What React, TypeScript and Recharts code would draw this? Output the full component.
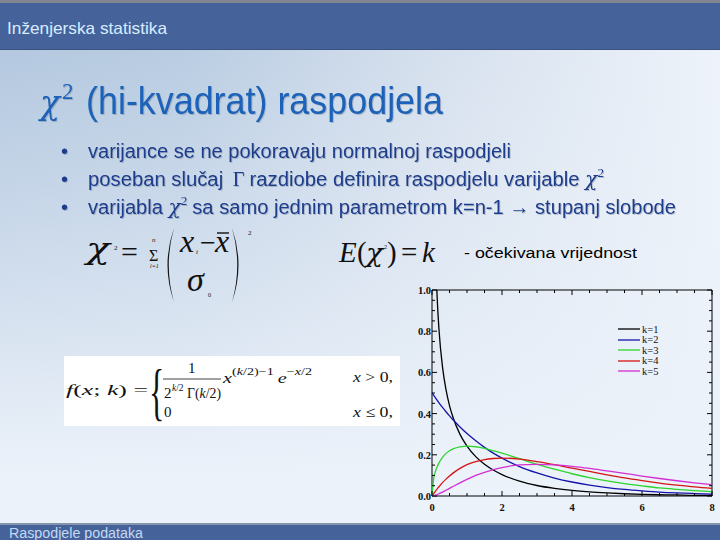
import React from "react";
import { LineChart, Line, XAxis, YAxis, ReferenceArea, Legend } from "recharts";

// x positions the curves were read at
const xValues = [0, 0.05, 0.1, 0.15, 0.2, 0.3, 0.4, 0.5, 0.6, 0.8, 1, 1.25, 1.5, 1.75, 2, 2.5, 3, 3.5, 4, 4.5, 5, 5.5, 6, 6.5, 7, 7.5, 8];

// density, one list per k
const k1 = [null, 1.74, 1.2, 0.956, 0.807, 0.627, 0.516, 0.439, 0.382, 0.299, 0.242, 0.191, 0.154, 0.126, 0.104, 0.072, 0.051, 0.037, 0.027, 0.02, 0.015, 0.011, 0.008, 0.006, 0.005, 0.003, 0.003];
const k2 = [0.5, 0.488, 0.476, 0.464, 0.452, 0.43, 0.409, 0.389, 0.37, 0.335, 0.303, 0.268, 0.236, 0.208, 0.184, 0.143, 0.112, 0.087, 0.068, 0.053, 0.041, 0.032, 0.025, 0.019, 0.015, 0.012, 0.009];
const k3 = [0, 0.087, 0.12, 0.143, 0.161, 0.188, 0.207, 0.22, 0.229, 0.239, 0.242, 0.239, 0.231, 0.22, 0.208, 0.181, 0.154, 0.13, 0.108, 0.089, 0.073, 0.06, 0.049, 0.039, 0.032, 0.026, 0.021];
const k4 = [0, 0.012, 0.024, 0.035, 0.045, 0.065, 0.082, 0.097, 0.111, 0.134, 0.152, 0.167, 0.177, 0.182, 0.184, 0.179, 0.167, 0.152, 0.135, 0.119, 0.103, 0.088, 0.075, 0.063, 0.053, 0.044, 0.037];
const k5 = [0, 0.001, 0.004, 0.007, 0.011, 0.019, 0.028, 0.037, 0.046, 0.064, 0.081, 0.1, 0.115, 0.128, 0.138, 0.151, 0.154, 0.151, 0.144, 0.134, 0.122, 0.11, 0.097, 0.085, 0.074, 0.064, 0.055];

const xTicks = [0, 0.5, 1, 1.5, 2, 2.5, 3, 3.5, 4, 4.5, 5, 5.5, 6, 6.5, 7, 7.5, 8];
const yTicks = [0, 0.05, 0.1, 0.15, 0.2, 0.25, 0.3, 0.35, 0.4, 0.45, 0.5, 0.55, 0.6, 0.65, 0.7, 0.75, 0.8, 0.85, 0.9, 0.95, 1];

const series = [
  { key: "k1", name: "k=1", color: "#000000" },
  { key: "k2", name: "k=2", color: "#1414a8" },
  { key: "k3", name: "k=3", color: "#2ed42e" },
  { key: "k4", name: "k=4", color: "#d41414" },
  { key: "k5", name: "k=5", color: "#d42ed4" },
];

const data = xValues.map((x, i) => ({ x, k1: k1[i], k2: k2[i], k3: k3[i], k4: k4[i], k5: k5[i] }));

const CHART_W = 320;
const CHART_H = 240;
const MARGIN = { top: 10, right: 8, left: 0, bottom: 0 };
const Y_W = 32;
const X_H = 24;
const PLOT_W = CHART_W - MARGIN.left - MARGIN.right - Y_W;
const PLOT_H = CHART_H - MARGIN.top - MARGIN.bottom - X_H;

const tickFont = { fontFamily: "'Liberation Serif', 'Times New Roman', serif", fontSize: 10.5, fontWeight: 600, fill: "#111" };

function XTick(props: any) {
  const { x, y, payload } = props;
  const v = payload.value;
  const major = v % 2 === 0;
  const len = major ? 5 : 3;
  return (
    <g>
      <line x1={x} y1={y} x2={x} y2={y - len} stroke="#000" />
      <line x1={x} y1={y - PLOT_H} x2={x} y2={y - PLOT_H + len} stroke="#000" />
      {major && (
        <text x={x} y={y + 15} textAnchor="middle" {...tickFont}>
          {v}
        </text>
      )}
    </g>
  );
}

function YTick(props: any) {
  const { x, y, payload } = props;
  const v = payload.value;
  const major = Math.round(v * 100) % 20 === 0;
  const len = major ? 5 : 3;
  return (
    <g>
      <line x1={x} y1={y} x2={x + len} y2={y} stroke="#000" />
      <line x1={x + PLOT_W} y1={y} x2={x + PLOT_W - len} y2={y} stroke="#000" />
      {major && (
        <text x={x - 1} y={y + 4} textAnchor="end" {...tickFont}>
          {v.toFixed(1)}
        </text>
      )}
    </g>
  );
}

function LegendBox(props: any) {
  const items = props.payload || [];
  return (
    <div style={{ fontFamily: "'Liberation Serif', serif", fontSize: 10.5, color: "#111" }}>
      {items.map((it: any) => (
        <div key={it.value} style={{ display: "flex", alignItems: "center", height: 10.5 }}>
          <svg width={24} height={10}>
            <line x1={0} y1={5} x2={22} y2={5} stroke={it.color} strokeWidth={1.3} />
          </svg>
          <span>{it.value}</span>
        </div>
      ))}
    </div>
  );
}

function Chi2Chart() {
  return (
    <LineChart width={CHART_W} height={CHART_H} data={data} margin={MARGIN}>
      <XAxis
        dataKey="x"
        type="number"
        domain={[0, 8]}
        ticks={xTicks}
        interval={0}
        height={X_H}
        axisLine={false}
        tickLine={false}
        tickSize={0}
        tickMargin={0}
        tick={<XTick />}
      />
      <YAxis
        type="number"
        domain={[0, 1]}
        allowDataOverflow
        ticks={yTicks}
        interval={0}
        width={Y_W}
        axisLine={false}
        tickLine={false}
        tickSize={0}
        tickMargin={0}
        tick={<YTick />}
      />
      <ReferenceArea x1={0} x2={8} y1={0} y2={1} fill="none" stroke="#000" strokeWidth={1} />
      {series.map((s) => (
        <Line
          key={s.key}
          dataKey={s.key}
          name={s.name}
          type="monotone"
          stroke={s.color}
          strokeWidth={1.3}
          dot={false}
          isAnimationActive={false}
        />
      ))}
      <Legend
        layout="vertical"
        align="center"
        verticalAlign="middle"
        content={<LegendBox />}
        wrapperStyle={{ left: 218, top: 44, width: 60 }}
      />
    </LineChart>
  );
}

const serif = "'Liberation Serif', 'Times New Roman', serif";
const greek = "'DejaVu Serif', 'Liberation Serif', serif";
const sans = "'Liberation Sans', Arial, sans-serif";

function Paren({ x, top, bottom, left }: { x: number; top: number; bottom: number; left: boolean }) {
  const mid = (top + bottom) / 2;
  const bulge = left ? x - 13 : x + 13;
  const inner = left ? x - 10.5 : x + 10.5;
  return <path d={`M${x},${top} Q${bulge},${mid} ${x},${bottom} Q${inner},${mid} ${x},${top} Z`} fill="#111" />;
}

function SlideText() {
  const bullet = "#1e3c8c";
  return (
    <svg width={720} height={540} style={{ position: "absolute", left: 0, top: 0 }}>
      <defs>
        <filter id="sh" x="-5%" y="-20%" width="110%" height="140%">
          <feDropShadow dx="1" dy="1" stdDeviation="0.6" floodColor="#5a6a80" floodOpacity="0.35" />
        </filter>
      </defs>
      <text x={7} y={34} fontFamily={sans} fontSize={16.5} fill="#d8ecff" textLength={160} lengthAdjust="spacingAndGlyphs">
        Inženjerska statistika
      </text>
      <text x={9} y={538} fontFamily={sans} fontSize={14} fill="#c4d8f4" textLength={134} lengthAdjust="spacingAndGlyphs">
        Raspodjele podataka
      </text>

      <g filter="url(#sh)">
        <text x={40} y={114} fontFamily={greek} fontSize={34} fontStyle="italic" fill="#1a62b8" textLength={20} lengthAdjust="spacingAndGlyphs">χ</text>
        <text x={62} y={99} fontFamily={serif} fontSize={23} fill="#1a62b8">2</text>
        <text x={86} y={114} fontFamily={sans} fontSize={38} fill="#1a62b8" textLength={357} lengthAdjust="spacingAndGlyphs">
          (hi-kvadrat) raspodjela
        </text>
        <g fontFamily={sans} fontSize={20} fill={bullet}>
          <text x={61} y={158}>•</text>
          <text x={88} y={158} textLength={423} lengthAdjust="spacingAndGlyphs">
            varijance se ne pokoravaju normalnoj raspodjeli
          </text>
          <text x={61} y={186}>•</text>
          <text x={88} y={186} textLength={516} lengthAdjust="spacingAndGlyphs">
            poseban slučaj <tspan fontFamily={serif} dx={4}>Γ</tspan>
            <tspan dx={5}>razdiobe definira raspodjelu varijable </tspan>
            <tspan fontFamily={greek} fontStyle="italic">χ</tspan>
            <tspan dy={-9} fontSize={13} fontFamily={serif}>2</tspan>
          </text>
          <text x={61} y={214}>•</text>
          <text x={88} y={214} textLength={588} lengthAdjust="spacingAndGlyphs">
            varijabla <tspan fontFamily={greek} fontStyle="italic">χ</tspan>
            <tspan dy={-9} fontSize={13} fontFamily={serif}>2</tspan>
            <tspan dy={9} dx={5}>sa samo jednim parametrom k=n-1 → stupanj slobode</tspan>
          </text>
        </g>
      </g>

      {/* chi^2 definition */}
      <g fill="#111" fontFamily={serif}>
        <text x={86} y={259} fontFamily={greek} fontSize={30} fontStyle="italic" textLength={24} lengthAdjust="spacingAndGlyphs">χ</text>
        <text x={114} y={250} fontSize={7}>2</text>
        <text x={121} y={262} fontSize={30}>=</text>
        <text x={152} y={242} fontSize={7} fontStyle="italic">n</text>
        <text x={149} y={261} fontSize={16}>Σ</text>
        <text x={150} y={268} fontSize={6} fontStyle="italic">i=1</text>
        <Paren x={174} top={228} bottom={302} left />
        <text x={180} y={252} fontSize={32} fontStyle="italic">x</text>
        <text x={196} y={254} fontSize={7} fontStyle="italic">i</text>
        <text x={200} y={252} fontSize={28}>−</text>
        <text x={215} y={252} fontSize={32} fontStyle="italic">x</text>
        <line x1={217} y1={233} x2={229} y2={233} stroke="#111" strokeWidth={1.4} />
        <text x={187} y={291} fontSize={34} fontStyle="italic">σ</text>
        <text x={208} y={297} fontSize={6}>0</text>
        <Paren x={232} top={228} bottom={302} left={false} />
        <text x={248} y={235} fontSize={7}>2</text>
      </g>

      {/* expectation */}
      <g fill="#111" fontFamily={serif}>
        <text x={339} y={262} fontSize={29} fontStyle="italic">E</text>
        <text x={357} y={262} fontSize={29}>(</text>
        <text x={366} y={262} fontFamily={greek} fontSize={26} fontStyle="italic" textLength={17} lengthAdjust="spacingAndGlyphs">χ</text>
        <text x={384} y={249} fontSize={6}>2</text>
        <text x={387} y={262} fontSize={29}>)</text>
        <text x={401} y={262} fontSize={29}>=</text>
        <text x={422} y={262} fontSize={29} fontStyle="italic">k</text>
      </g>
      <text x={464} y={258} fontFamily={sans} fontSize={15.5} fill="#000" textLength={173} lengthAdjust="spacingAndGlyphs">
        - očekivana vrijednost
      </text>

      {/* pdf box */}
      <rect x={64} y={356} width={336} height={70} fill="#fff" />
      <g fill="#111" fontFamily={serif} fontSize={15}>
        <text x={66} y={395} textLength={82} lengthAdjust="spacingAndGlyphs">
          <tspan fontStyle="italic">f</tspan>(<tspan fontStyle="italic">x</tspan>; <tspan fontStyle="italic">k</tspan>) =
        </text>
        <text transform="translate(149,413) scale(0.5,1)" fontSize={64}>{"{"}</text>
        <text x={188} y={373}>1</text>
        <line x1={163} y1={379} x2={221} y2={379} stroke="#111" strokeWidth={0.8} />
        <text x={164} y={398}>2</text>
        <text x={172} y={391} fontSize={9.5}>
          <tspan fontStyle="italic">k</tspan>/2
        </text>
        <text x={187} y={398} fontSize={14.5} textLength={34} lengthAdjust="spacingAndGlyphs">
          Γ(<tspan fontStyle="italic">k</tspan>/2)
        </text>
        <text x={223} y={383} textLength={89} lengthAdjust="spacingAndGlyphs">
          <tspan fontStyle="italic">x</tspan>
          <tspan dy={-8} fontSize={10.5}>(</tspan>
          <tspan fontSize={10.5} fontStyle="italic">k</tspan>
          <tspan fontSize={10.5}>/2)−1</tspan>
          <tspan dy={8} dx={3} fontStyle="italic">e</tspan>
          <tspan dy={-8} fontSize={10.5}>−</tspan>
          <tspan fontSize={10.5} fontStyle="italic">x</tspan>
          <tspan fontSize={10.5}>/2</tspan>
        </text>
        <text x={353} y={382} textLength={40} lengthAdjust="spacingAndGlyphs">
          <tspan fontStyle="italic">x</tspan> &gt; 0,
        </text>
        <text x={164} y={417}>0</text>
        <text x={353} y={417} textLength={40} lengthAdjust="spacingAndGlyphs">
          <tspan fontStyle="italic">x</tspan> ≤ 0,
        </text>
      </g>
    </svg>
  );
}

export default function App() {
  return (
    <div
      style={{
        position: "absolute",
        left: 0,
        top: 0,
        width: 720,
        height: 540,
        overflow: "hidden",
        fontFamily: sans,
        background:
          "linear-gradient(to bottom, rgba(236,242,250,0) 0%, rgba(236,242,250,0.55) 50%, rgba(236,242,250,1) 88%), linear-gradient(to right, #adc3dc 0%, #b3c8df 25%, #d3deec 60%, #eef3fa 100%)",
      }}
    >
      <div style={{ position: "absolute", left: 0, top: 0, width: 720, height: 3, background: "#80868f" }} />
      <div style={{ position: "absolute", left: 0, top: 3, width: 720, height: 46, background: "#45639a", borderBottom: "1px solid #3a5380" }} />
      <div style={{ position: "absolute", left: 0, top: 523, width: 720, height: 17, background: "#45639a", borderTop: "2px solid #8494ac" }} />
      <SlideText />
      <div style={{ position: "absolute", left: 400, top: 280 }}>
        <Chi2Chart />
      </div>
    </div>
  );
}
